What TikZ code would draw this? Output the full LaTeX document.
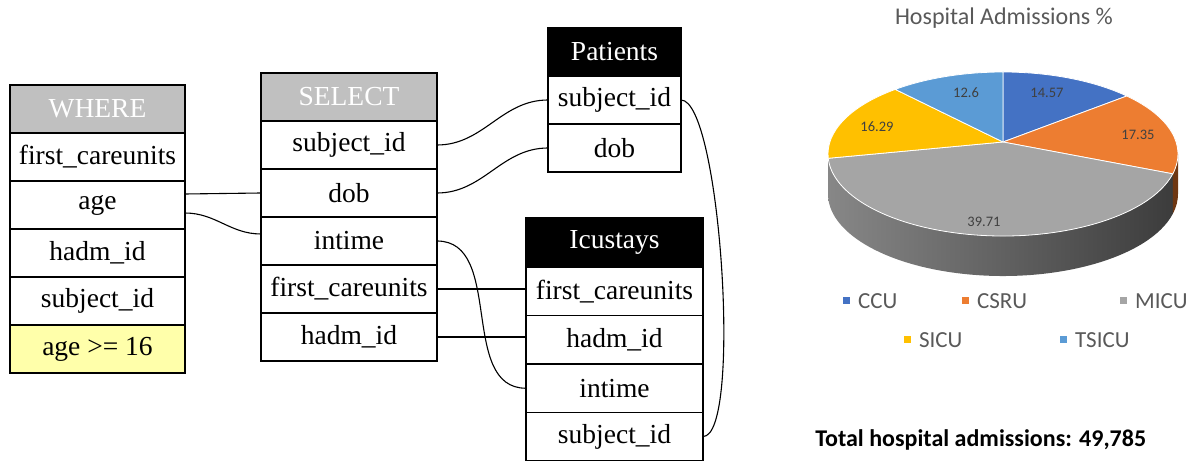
\documentclass[tikz,border=0pt]{standalone}
\usepackage{fontspec}
\setmainfont{Liberation Serif}
\newfontfamily\chartfont{Carlito}
\usepackage{tikz}
\usetikzlibrary{positioning}

\definecolor{ccu}{RGB}{68,114,196}
\definecolor{csru}{RGB}{237,125,49}
\definecolor{micu}{RGB}{165,165,165}
\definecolor{sicu}{RGB}{255,192,0}
\definecolor{tsicu}{RGB}{91,155,213}
\definecolor{headgray}{RGB}{192,192,192}
\definecolor{condyellow}{RGB}{255,255,170}
\definecolor{labelgray}{RGB}{89,89,89}
\definecolor{valuegray}{RGB}{64,64,64}
\definecolor{sidelight}{RGB}{135,135,135}
\definecolor{sidedark}{RGB}{60,60,60}
\definecolor{csruside}{RGB}{110,55,18}

\begin{document}
\begin{tikzpicture}[x=1pt, y=-1pt, node distance=0pt, semithick,
    fieldbox/.style={draw, line width=1.3pt, minimum width=#1, minimum height=48pt,
        inner sep=0pt, outer sep=0pt, font=\fontsize{27.5}{31}\selectfont},
    grayhead/.style={fill=headgray, text=white},
    darkhead/.style={fill=black, text=white},
    link/.style={line width=1.1pt},
    slicevalue/.style={text=valuegray, font=\chartfont\fontsize{14.5}{16}\selectfont},
    legendkey/.style={minimum size=7pt, inner sep=0pt},
    legendtext/.style={text=labelgray, inner sep=0pt, font=\chartfont\fontsize{23}{26}\selectfont}]

    \useasboundingbox (0,0) rectangle (1200,462);

    % WHERE table
    \node[fieldbox=175pt, grayhead, anchor=north west] (where) at (10,85) {WHERE};
    \node[fieldbox=175pt, below=of where] (wfirst) {first\_careunits};
    \node[fieldbox=175pt, below=of wfirst] (wage) {age};
    \node[fieldbox=175pt, below=of wage] (whadm) {hadm\_id};
    \node[fieldbox=175pt, below=of whadm] (wsubj) {subject\_id};
    \node[fieldbox=175pt, fill=condyellow, below=of wsubj] (wcond) {age >= 16};

    % SELECT table
    \node[fieldbox=176pt, grayhead, anchor=north west] (select) at (261,73) {SELECT};
    \node[fieldbox=176pt, below=of select] (ssubj) {subject\_id};
    \node[fieldbox=176pt, below=of ssubj] (sdob) {dob};
    \node[fieldbox=176pt, below=of sdob] (sintime) {intime};
    \node[fieldbox=176pt, below=of sintime] (sfirst) {first\_careunits};
    \node[fieldbox=176pt, below=of sfirst] (shadm) {hadm\_id};

    % Patients table
    \node[fieldbox=133pt, darkhead, anchor=north west] (patients) at (548,28) {Patients};
    \node[fieldbox=133pt, below=of patients] (psubj) {subject\_id};
    \node[fieldbox=133pt, below=of psubj] (pdob) {dob};

    % Icustays table
    \node[fieldbox=177pt, darkhead, minimum height=49.5pt, anchor=north west] (icustays) at (526,218) {Icustays};
    \node[fieldbox=177pt, minimum height=48.3pt, below=of icustays] (ifirst) {first\_careunits};
    \node[fieldbox=177pt, minimum height=48.3pt, below=of ifirst] (ihadm) {hadm\_id};
    \node[fieldbox=177pt, minimum height=48.3pt, below=of ihadm] (iintime) {intime};
    \node[fieldbox=177pt, minimum height=48.3pt, below=of iintime] (isubj) {subject\_id};

    \path[link]
        ([yshift=11pt]wage.east) edge (sdob.west)
        ([yshift=-8pt]wage.east) edge[out=0, in=180] ([yshift=7pt]sintime.west)
        (ssubj.east) edge[out=0, in=180] (psubj.west)
        (sdob.east) edge[out=0, in=180] (pdob.west)
        (sintime.east) edge[out=0, in=180] (iintime.west)
        (sfirst.east) edge (ifirst.west |- sfirst.east)
        (shadm.east) edge (ihadm.west |- shadm.east)
        (psubj.east) edge[out=0, in=0, looseness=0.3] (isubj.east);

    % pie chart
    \node[text=labelgray, font=\chartfont\fontsize{24}{28}\selectfont] (title) at (1004,18) {Hospital Admissions \%};

    \coordinate (apex) at (1003,142);
    \coordinate (pc) at (1003,154);
    \path[left color=sidelight, right color=sidedark]
        ([shift={(180:175pt and 82pt)}]pc) arc[start angle=180, end angle=346, x radius=175pt, y radius=82pt]
        -- ++(0,40) arc[start angle=346, end angle=180, x radius=175pt, y radius=82pt] -- cycle;
    \fill[csruside]
        ([shift={(346:175pt and 82pt)}]pc) arc[start angle=346, end angle=360, x radius=175pt, y radius=82pt]
        -- ++(0,40) arc[start angle=360, end angle=346, x radius=175pt, y radius=82pt] -- cycle;
    \foreach \a/\b/\c in {90/45/ccu, 45/-14/csru, -14/-177/micu, 183/128/sicu, 128/90/tsicu}
        \filldraw[fill=\c, draw=white, line width=0.8pt]
            (apex) -- ([shift={(\a:175pt and 82pt)}]pc)
            arc[start angle=\a, end angle=\b, x radius=175pt, y radius=82pt] -- cycle;

    \node[slicevalue] (vccu) at (1047,93) {14.57};
    \node[slicevalue] (vcsru) at (1138,135) {17.35};
    \node[slicevalue] (vmicu) at (984,222) {39.71};
    \node[slicevalue] (vsicu) at (877,127) {16.29};
    \node[slicevalue] (vtsicu) at (966,93) {12.6};

    % legend
    \node[legendkey, fill=ccu] (kccu) at (846,301) {};
    \node[legendtext, right=8pt of kccu] (tccu) {CCU};
    \node[legendkey, fill=csru] (kcsru) at (965,301) {};
    \node[legendtext, right=8pt of kcsru] (tcsru) {CSRU};
    \node[legendkey, fill=micu] (kmicu) at (1123,301) {};
    \node[legendtext, right=8pt of kmicu] (tmicu) {MICU};
    \node[legendkey, fill=sicu] (ksicu) at (907,340) {};
    \node[legendtext, right=8pt of ksicu] (tsicu) {SICU};
    \node[legendkey, fill=tsicu] (ktsicu) at (1063,340) {};
    \node[legendtext, right=8pt of ktsicu] (ttsicu) {TSICU};

    \node[anchor=west, inner sep=0pt, font=\chartfont\bfseries\fontsize{24}{28}\selectfont] (total) at (815,440) {Total hospital admissions: 49,785};

\end{tikzpicture}
\end{document}
